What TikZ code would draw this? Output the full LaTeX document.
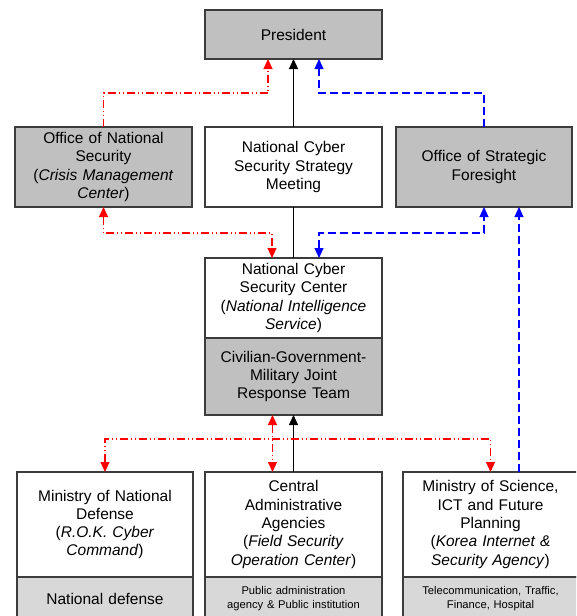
\documentclass[tikz,border=0pt]{standalone}
\usepackage{fontspec}
\setmainfont{Liberation Sans}
\usetikzlibrary{arrows.meta,positioning}
\definecolor{boxgray}{RGB}{192,192,192}
\definecolor{subgray}{RGB}{216,216,216}
\definecolor{edgegray}{RGB}{60,60,60}

\begin{document}
\begin{tikzpicture}[x=1pt, y=-1pt,
  unit/.style={rectangle, draw=edgegray, line width=1.2pt, minimum width=177pt, minimum height=80pt, inner sep=0pt, outer sep=0pt, text width=172pt, align=center, font=\fontsize{15.5}{18.3}\selectfont},
  grayunit/.style={unit, fill=boxgray},
  whiteunit/.style={unit, fill=white},
  subunit/.style={unit, fill=subgray, minimum height=44pt},
  tip/.style={-{Triangle[length=10pt,width=9pt]}},
  bitip/.style={{Triangle[length=10pt,width=9pt]}-{Triangle[length=10pt,width=9pt]}},
  blackline/.style={line width=1.1pt, black},
  redline/.style={line width=1.1pt, red, dash pattern=on 8pt off 3pt on 1pt off 3pt on 1pt off 3pt},
  blueline/.style={line width=1.1pt, blue, dash pattern=on 8pt off 4pt}]
\useasboundingbox (0,0) rectangle (576,616);
\clip (0,0) rectangle (576,616);

% top level
\node[grayunit, minimum height=49pt] (pres) at (293.5,34.5) {President};
\node[grayunit] (ons) at (103.5,167) {Office of National\\Security\\(\textit{Crisis Management}\\\textit{Center})};
\node[whiteunit] (ncssm) at (293.5,167) {National Cyber\\Security Strategy\\Meeting};
\node[grayunit, minimum width=176pt] (osf) at (484,167) {Office of Strategic\\Foresight};

% center
\node[whiteunit] (ncsc) at (293.5,298) {National Cyber\\Security Center\\(\textit{National Intelligence}\\\textit{Service})};
\node[grayunit, minimum height=77pt, below=0pt of ncsc] (cgm) {Civilian-Government-\\Military Joint\\Response Team};

% ministries
\node[whiteunit, minimum width=176pt, minimum height=105pt] (mnd) at (105,524.5) {Ministry of National\\Defense\\(\textit{R.O.K. Cyber}\\\textit{Command})};
\node[whiteunit, minimum height=105pt] (caa) at (293.5,524.5) {Central\\Administrative\\Agencies\\(\textit{Field Security}\\\textit{Operation Center})};
\node[whiteunit, minimum width=175pt, minimum height=105pt] (msict) at (490.5,524.5) {Ministry of Science,\\ICT and Future\\Planning\\(\textit{Korea Internet \&}\\\textit{Security Agency})};
\node[subunit, minimum width=176pt, below=0pt of mnd] (mndsub) {National defense};
\node[subunit, below=0pt of caa, font=\fontsize{11.2}{14}\selectfont] (caasub) {Public administration\\agency \& Public institution};
\node[subunit, minimum width=175pt, below=0pt of msict, font=\fontsize{11.2}{14}\selectfont] (msictsub) {Telecommunication, Traffic,\\Finance, Hospital};

% solid lines
\draw[blackline, tip] (ncssm.north) -- (pres.south);
\draw[blackline] (ncsc.north) -- (ncssm.south);
\draw[blackline, tip] (caa.north) -- (cgm.south);

% red dash-dot lines
\draw[redline, tip] (ons.north) -- ++(0,-34) -| ([xshift=-25.5pt]pres.south);
\draw[redline, bitip] (ons.south) -- ++(0,26) -| ([xshift=-21.5pt]ncsc.north);
\draw[redline, bitip] ([xshift=-21pt]cgm.south) -- ([xshift=-21pt]cgm.south |- caa.north);
\draw[redline, bitip] (mnd.north) -- ++(0,-33) -| (msict.north);

% blue dashed lines
\draw[blueline, tip] (osf.north) -- ++(0,-34) -| ([xshift=25.5pt]pres.south);
\draw[blueline, bitip] ([xshift=25.5pt]ncsc.north) -- ++(0,-25) -| (osf.south);
\draw[blueline, tip] ([xshift=35pt]osf.south |- msict.north) -- ([xshift=35pt]osf.south);
\end{tikzpicture}
\end{document}
